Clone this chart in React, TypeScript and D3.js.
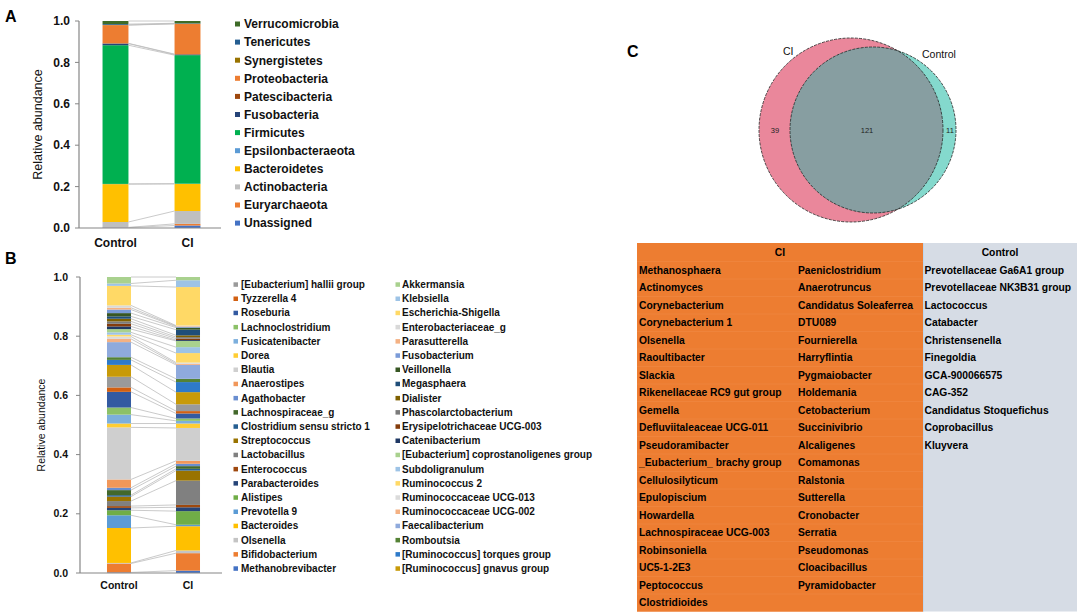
import React from "react";
import * as d3 from "d3";

// ---------- Panel A data (phylum, stack order bottom -> top) ----------
const phylumNames = ["Unassigned", "Euryarchaeota", "Actinobacteria", "Bacteroidetes", "Epsilonbacteraeota", "Firmicutes", "Fusobacteria", "Patescibacteria", "Proteobacteria", "Synergistetes", "Tenericutes", "Verrucomicrobia"];
const phylumControl = [0.002, 0.001, 0.026, 0.183, 0.001, 0.670, 0.008, 0.001, 0.088, 0.001, 0.004, 0.015];
const phylumCI = [0.012, 0.008, 0.062, 0.131, 0.001, 0.621, 0.003, 0.002, 0.146, 0.001, 0.002, 0.011];
const phylumColors = ["#4472C4", "#ED7D31", "#BFBFBF", "#FFC000", "#5B9BD5", "#00B050", "#264478", "#9E480E", "#ED7D31", "#997300", "#255E91", "#3E6B27"];

// ---------- Panel B data (genus, stack order bottom -> top) ----------
const genusNames = [
  "Methanobrevibacter", "Bifidobacterium", "Olsenella", "Bacteroides", "Prevotella 9", "Alistipes", "Parabacteroides", "Enterococcus", "Lactobacillus", "Streptococcus", "Clostridium sensu stricto 1", "Lachnospiraceae_g", "Agathobacter", "Anaerostipes", "Blautia", "Dorea", "Fusicatenibacter", "Lachnoclostridium", "Roseburia", "Tyzzerella 4", "[Eubacterium] hallii group",
  "[Ruminococcus] gnavus group", "[Ruminococcus] torques group", "Romboutsia", "Faecalibacterium", "Ruminococcaceae UCG-002", "Ruminococcaceae UCG-013", "Ruminococcus 2", "Subdoligranulum", "[Eubacterium] coprostanoligenes group", "Catenibacterium", "Erysipelotrichaceae UCG-003", "Phascolarctobacterium", "Dialister", "Megasphaera", "Veillonella", "Fusobacterium", "Parasutterella", "Enterobacteriaceae_g", "Escherichia-Shigella", "Klebsiella", "Akkermansia",
];
const genusControl = [0.002, 0.030, 0.002, 0.118, 0.043, 0.017, 0.008, 0.006, 0.017, 0.015, 0.005, 0.017, 0.008, 0.028, 0.176, 0.013, 0.030, 0.024, 0.053, 0.015, 0.036, 0.040, 0.017, 0.009, 0.051, 0.011, 0.008, 0.006, 0.008, 0.011, 0.009, 0.009, 0.008, 0.009, 0.008, 0.011, 0.012, 0.006, 0.008, 0.066, 0.008, 0.022];
const genusCI = [0.008, 0.059, 0.009, 0.082, 0.005, 0.046, 0.013, 0.008, 0.082, 0.034, 0.006, 0.009, 0.008, 0.010, 0.111, 0.015, 0.009, 0.008, 0.017, 0.008, 0.023, 0.041, 0.034, 0.011, 0.047, 0.004, 0.004, 0.032, 0.020, 0.021, 0.003, 0.005, 0.005, 0.006, 0.019, 0.007, 0.003, 0.002, 0.002, 0.130, 0.023, 0.011];
const genusColors = ["#4472C4", "#ED7D31", "#C4C4C4", "#FFC000", "#5B9BD5", "#70AD47", "#264478", "#9E480E", "#808080", "#997300", "#255E91", "#43682B", "#698ED0", "#F1975A", "#CFCFCF", "#FFCD33", "#7CAFDD", "#8CC168", "#335AA1", "#D26012", "#9A9A9A",
  "#C89A08", "#2E7AC9", "#548235", "#8FAADC", "#F4B183", "#DBDBDB", "#FFD966", "#9DC3E6", "#A9D18E", "#1F3864", "#843C0C", "#7B7B7B", "#7F6000", "#1F4E79", "#375623", "#7A9BD8", "#F4B183", "#D9D9D9", "#FFD966", "#9DC3E6", "#A9D18E"];

const groups = ["Control", "CI"];
const yTicks = [0, 0.2, 0.4, 0.6, 0.8, 1.0];

// ---------- Panel C data ----------
const vennLabels = ["CI", "Control"];
const vennCounts = [39, 121, 11];
const ciOnlyCol1 = ["Methanosphaera", "Actinomyces", "Corynebacterium", "Corynebacterium 1", "Olsenella", "Raoultibacter", "Slackia", "Rikenellaceae RC9 gut group", "Gemella", "Defluviitaleaceae UCG-011", "Pseudoramibacter", "_Eubacterium_ brachy group", "Cellulosilyticum", "Epulopiscium", "Howardella", "Lachnospiraceae UCG-003", "Robinsoniella", "UC5-1-2E3", "Peptococcus", "Clostridioides"];
const ciOnlyCol2 = ["Paeniclostridium", "Anaerotruncus", "Candidatus Soleaferrea", "DTU089", "Fournierella", "Harryflintia", "Pygmaiobacter", "Holdemania", "Cetobacterium", "Succinivibrio", "Alcaligenes", "Comamonas", "Ralstonia", "Sutterella", "Cronobacter", "Serratia", "Pseudomonas", "Cloacibacillus", "Pyramidobacter"];
const controlOnly = ["Prevotellaceae Ga6A1 group", "Prevotellaceae NK3B31 group", "Lactococcus", "Catabacter", "Christensenella", "Finegoldia", "GCA-900066575", "CAG-352", "Candidatus Stoquefichus", "Coprobacillus", "Kluyvera"];

const FONT = "'Liberation Sans', Arial, Helvetica, sans-serif";

type PanelProps = {
  names: string[];
  control: number[];
  ci: number[];
  colors: string[];
  yTop: number;
  yBottom: number;
  xRange: [number, number];
  axisX0: number;
  axisX1: number;
  bandPad: number;
  tickFont: number;
  tickRight: number;
  labelFont: number;
  labelY: number;
  titleX: number;
  titleFont: number;
};

function StackPanel(p: PanelProps) {
  const y = d3.scaleLinear().domain([0, 1]).range([p.yBottom, p.yTop]);
  const x = d3.scaleBand<string>().domain(groups).range(p.xRange).paddingInner(p.bandPad).paddingOuter(p.bandPad / 2);
  const rows = groups.map((g, gi) => {
    const o: any = { group: g };
    p.names.forEach((n, i) => (o[n] = gi === 0 ? p.control[i] : p.ci[i]));
    return o;
  });
  const series = d3.stack<any>().keys(p.names)(rows);
  const bw = x.bandwidth();
  const xc = x("Control")!;
  const xi = x("CI")!;
  return (
    <g>
      {series.map((s, i) => (
        <g key={p.names[i]}>
          {s.map((d, j) => {
            const g = groups[j];
            return (
              <rect key={g} x={x(g)!} y={y(d[1])} width={bw} height={Math.max(0, y(d[0]) - y(d[1]))} fill={p.colors[i]} />
            );
          })}
        </g>
      ))}
      {series.map((s, i) => (
        <line key={"sl" + i} x1={xc + bw} y1={y(s[0][1])} x2={xi} y2={y(s[1][1])} stroke="#BDBDBD" strokeWidth={0.8} />
      ))}
      <line x1={p.axisX0} y1={y(0)} x2={p.axisX0} y2={y(1)} stroke="#868686" strokeWidth={1.2} />
      <line x1={p.axisX0} y1={y(0)} x2={p.axisX1} y2={y(0)} stroke="#868686" strokeWidth={1.2} />
      {yTicks.map((t) => (
        <g key={t}>
          <line x1={p.axisX0 - 4} x2={p.axisX0} y1={y(t)} y2={y(t)} stroke="#868686" strokeWidth={1} />
          <text x={p.tickRight} y={y(t)} dy="0.35em" textAnchor="end" fontFamily={FONT} fontWeight="bold" fontSize={p.tickFont} fill="#111">
            {d3.format(".1f")(t)}
          </text>
        </g>
      ))}
      {groups.map((g) => (
        <text key={g} x={x(g)! + bw / 2} y={p.labelY} textAnchor="middle" fontFamily={FONT} fontWeight="bold" fontSize={p.labelFont} fill="#111">
          {g}
        </text>
      ))}
      <text transform={`translate(${p.titleX},${(y(0) + y(1)) / 2}) rotate(-90)`} textAnchor="middle" fontFamily={FONT} fontSize={p.titleFont} fill="#111">
        Relative abundance
      </text>
    </g>
  );
}

function Venn() {
  const ciC = { cx: 851, cy: 130, r: 92 };
  const ctC = { cx: 873, cy: 130, r: 83 };
  return (
    <g>
      <defs>
        <clipPath id="ciClip">
          <circle cx={ciC.cx} cy={ciC.cy} r={ciC.r} />
        </clipPath>
      </defs>
      <circle cx={ciC.cx} cy={ciC.cy} r={ciC.r} fill="#EA879B" />
      <circle cx={ctC.cx} cy={ctC.cy} r={ctC.r} fill="#84D9CD" />
      <circle cx={ctC.cx} cy={ctC.cy} r={ctC.r} fill="#879EA1" clipPath="url(#ciClip)" />
      <circle cx={ciC.cx} cy={ciC.cy} r={ciC.r} fill="none" stroke="#222" strokeWidth={0.8} strokeDasharray="3,1.2" />
      <circle cx={ctC.cx} cy={ctC.cy} r={ctC.r} fill="none" stroke="#222" strokeWidth={0.8} strokeDasharray="3,1.2" />
      <text x={783} y={55} fontFamily={FONT} fontSize={10.5} fill="#111">{vennLabels[0]}</text>
      <text x={922} y={58} fontFamily={FONT} fontSize={10.5} fill="#111">{vennLabels[1]}</text>
      <text x={775} y={133} textAnchor="middle" fontFamily={FONT} fontSize={7.5} fill="#222">{vennCounts[0]}</text>
      <text x={867} y={133} textAnchor="middle" fontFamily={FONT} fontSize={7.5} fill="#222">{vennCounts[1]}</text>
      <text x={950} y={133} textAnchor="middle" fontFamily={FONT} fontSize={7.5} fill="#222">{vennCounts[2]}</text>
    </g>
  );
}

function Table() {
  const x0 = 637, x1 = 923, x2 = 1077;
  const top = 243, headH = 18.5, rowH = 17.5;
  const nRows = ciOnlyCol1.length;
  const bottom = top + headH + nRows * rowH;
  const rowY = d3.scaleLinear().domain([0, 1]).range([top + headH, top + headH + rowH]);
  const fs = 10.3;
  return (
    <g fontFamily={FONT} fontWeight="bold" fontSize={fs} fill="#000">
      <rect x={x0} y={top} width={x1 - x0} height={bottom - top} fill="#ED7D31" />
      <rect x={x1} y={top} width={x2 - x1} height={bottom - top} fill="#D6DCE5" />
      <line x1={x1 + 0.5} x2={x1 + 0.5} y1={top} y2={bottom} stroke="#BDD7EE" strokeWidth={1} />
      {d3.range(nRows + 1).map((i) => (
        <line key={i} x1={x0} x2={x1} y1={rowY(i)} y2={rowY(i)} stroke="#F08A45" strokeWidth={0.6} />
      ))}
      <text x={(x0 + x1) / 2} y={top + headH / 2 + 3.6} textAnchor="middle">CI</text>
      <text x={(x1 + x2) / 2} y={top + headH / 2 + 3.6} textAnchor="middle">Control</text>
      {ciOnlyCol1.map((t, i) => (
        <text key={"a" + i} x={639} y={rowY(i + 0.5) + 3.6}>{t}</text>
      ))}
      {ciOnlyCol2.map((t, i) => (
        <text key={"b" + i} x={798} y={rowY(i + 0.5) + 3.6}>{t}</text>
      ))}
      {controlOnly.map((t, i) => (
        <text key={"c" + i} x={924.5} y={rowY(i + 0.5) + 3.6}>{t}</text>
      ))}
    </g>
  );
}

export default function App() {
  const legendA = [...phylumNames.keys()].reverse();
  const half = 21;
  const legB1 = d3.range(half - 1, -1, -1);
  const legB2 = d3.range(genusNames.length - 1, half - 1, -1);
  const legAY = d3.scaleLinear().domain([0, 1]).range([24, 42.1]);
  const legBY = d3.scaleLinear().domain([0, 1]).range([284.3, 298.5]);
  return (
    <svg width={1084} height={614} viewBox="0 0 1084 614" style={{ position: "absolute", left: 0, top: 0, background: "#fff" }}>
      <rect x={0} y={0} width={1084} height={614} fill="#fff" />
      {/* Panel labels */}
      <text x={5} y={22} fontFamily={FONT} fontWeight="bold" fontSize={16} fill="#000">A</text>
      <text x={5} y={264} fontFamily={FONT} fontWeight="bold" fontSize={16} fill="#000">B</text>
      <text x={627} y={57} fontFamily={FONT} fontWeight="bold" fontSize={16} fill="#000">C</text>

      <StackPanel names={phylumNames} control={phylumControl} ci={phylumCI} colors={phylumColors}
        yTop={21} yBottom={228} xRange={[79.5, 223.5]} axisX0={79} axisX1={221} bandPad={0.64}
        tickFont={12} tickRight={70} labelFont={12} labelY={247} titleX={42} titleFont={12.5} />
      {legendA.map((idx, i) => (
        <g key={phylumNames[idx]}>
          <rect x={235} y={legAY(i) - 2.5} width={5} height={5} fill={phylumColors[idx]} />
          <text x={244} y={legAY(i)} dy="0.36em" fontFamily={FONT} fontWeight="bold" fontSize={12} fill="#111">{phylumNames[idx]}</text>
        </g>
      ))}

      <StackPanel names={genusNames} control={genusControl} ci={genusCI} colors={genusColors}
        yTop={277} yBottom={573} xRange={[84.5, 222.5]} axisX0={80} axisX1={222} bandPad={0.652}
        tickFont={10.5} tickRight={68} labelFont={10.5} labelY={589} titleX={45} titleFont={10.5} />
      {legB1.map((idx, i) => (
        <g key={genusNames[idx]}>
          <rect x={233.5} y={legBY(i) - 2} width={4.5} height={4.5} fill={genusColors[idx]} />
          <text x={241} y={legBY(i)} dy="0.36em" fontFamily={FONT} fontWeight="bold" fontSize={10} fill="#111">{genusNames[idx]}</text>
        </g>
      ))}
      {legB2.map((idx, i) => (
        <g key={genusNames[idx]}>
          <rect x={395.5} y={legBY(i) - 2} width={4.5} height={4.5} fill={genusColors[idx]} />
          <text x={402} y={legBY(i)} dy="0.36em" fontFamily={FONT} fontWeight="bold" fontSize={10} fill="#111">{genusNames[idx]}</text>
        </g>
      ))}

      <Venn />
      <Table />
    </svg>
  );
}
